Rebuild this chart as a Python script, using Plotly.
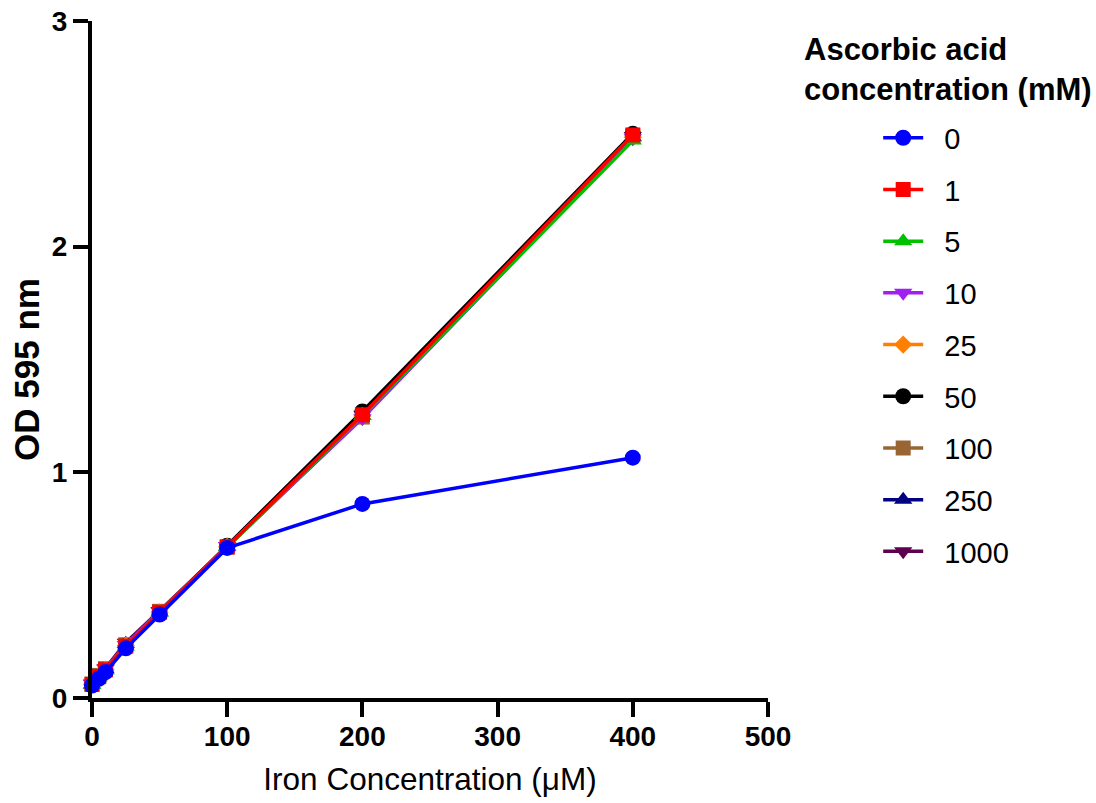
import plotly.graph_objects as go

iron = [0, 5, 10, 25, 50, 100, 200, 400]
series_names = ["0", "1", "5", "10", "25", "50", "100", "250", "1000"]
od = {
    "0":    [0.055, 0.085, 0.115, 0.220, 0.370, 0.665, 0.860, 1.065],
    "1":    [0.060, 0.095, 0.125, 0.230, 0.380, 0.670, 1.255, 2.495],
    "5":    [0.058, 0.092, 0.122, 0.228, 0.378, 0.668, 1.250, 2.470],
    "10":   [0.062, 0.098, 0.128, 0.235, 0.382, 0.672, 1.240, 2.480],
    "25":   [0.060, 0.096, 0.126, 0.232, 0.380, 0.670, 1.250, 2.485],
    "50":   [0.058, 0.094, 0.124, 0.230, 0.378, 0.675, 1.270, 2.500],
    "100":  [0.062, 0.100, 0.130, 0.236, 0.384, 0.668, 1.245, 2.490],
    "250":  [0.060, 0.097, 0.127, 0.240, 0.380, 0.670, 1.250, 2.485],
    "1000": [0.064, 0.102, 0.132, 0.245, 0.386, 0.672, 1.255, 2.490],
}
colors = ["#0000FF", "#FF0000", "#00C000", "#A020F0", "#FF8000",
          "#000000", "#996633", "#000080", "#5C0050"]
symbols = ["circle", "square", "triangle-up", "triangle-down", "diamond",
           "circle", "square", "triangle-up", "triangle-down"]
sizes = {"circle": 16, "square": 15, "triangle-up": 16, "triangle-down": 16, "diamond": 14}

fig = go.Figure()
for i in reversed(range(len(series_names))):
    name = series_names[i]
    fig.add_trace(go.Scatter(
        x=iron, y=od[name], name="\u00a0\u00a0" + name, mode="lines+markers",
        line=dict(color=colors[i], width=3.5),
        marker=dict(color=colors[i], symbol=symbols[i], size=sizes[symbols[i]]),
        legendrank=i + 1, legendgroup=name, cliponaxis=False,
    ))

font_family = "Liberation Sans, Arial, sans-serif"
fig.update_layout(
    width=1096, height=803,
    margin=dict(l=92, r=328, t=21, b=105, autoexpand=False),
    paper_bgcolor="white", plot_bgcolor="white",
    font=dict(family=font_family, color="black"),
    showlegend=True,
    legend=dict(
        x=1.163, xanchor="left", y=0.865, yanchor="top",
        font=dict(size=29, family=font_family),
        tracegroupgap=11, itemwidth=40,
        bgcolor="rgba(0,0,0,0)",
    ),
    annotations=[
        dict(
            text="<b>Ascorbic acid<br>concentration (mM)</b>",
            xref="paper", yref="paper", x=1.05, y=0.987, xanchor="left", yanchor="top",
            showarrow=False, align="left", font=dict(size=31, family=font_family),
        ),
        dict(
            text="<b>OD 595 nm</b>", textangle=-90,
            xref="paper", yref="paper", x=-0.0962, y=0.486,
            xanchor="center", yanchor="middle",
            showarrow=False, font=dict(size=35, family=font_family),
        ),
    ],
)
fig.update_xaxes(
    range=[0, 500], tickvals=[0, 100, 200, 300, 400, 500],
    showline=True, linecolor="black", linewidth=4,
    ticks="outside", ticklen=15, tickwidth=4, tickcolor="black",
    tickfont=dict(size=28, family=font_family, weight="bold"),
    ticklabelstandoff=-5, ticklabeloverflow="allow",
    showgrid=False, zeroline=False, automargin=False,
    title=dict(text="Iron Concentration (μM)", font=dict(size=31.5, family=font_family), standoff=18),
)
fig.update_yaxes(
    range=[0, 3], tickvals=[0, 1, 2, 3],
    showline=True, linecolor="black", linewidth=4,
    ticks="outside", ticklen=15, tickwidth=4, tickcolor="black",
    tickfont=dict(size=28, family=font_family, weight="bold"),
    ticklabeloverflow="allow",
    showgrid=False, zeroline=False, automargin=False,
)
fig.write_html(
    "out.html",
    config={"displayModeBar": False},
    post_script="document.body.style.margin='0';document.body.style.overflow='hidden';",
)
